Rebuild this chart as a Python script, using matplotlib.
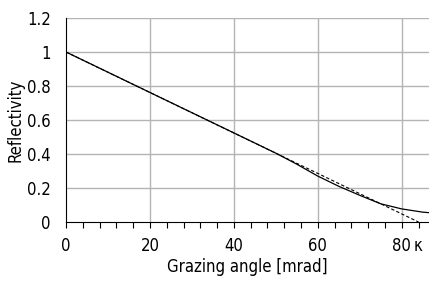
import matplotlib

matplotlib.use("Agg")
import matplotlib.pyplot as plt
import numpy as np

# donnees
kappa = 84.0
angle = [0, 10, 20, 30, 40, 50, 55, 60, 65, 70, 75, 80, 85, 86.5]
refl = [1.0, 0.881, 0.762, 0.643, 0.524, 0.405, 0.34, 0.27, 0.21, 0.157, 0.107, 0.077, 0.058, 0.055]
lin_angle = [0, kappa]
lin_refl = [1.0, 0.0]

xticks = [0, 20, 40, 60, 80, kappa]
xticklabels = ["0", "20", "40", "60", "80", "κ"]
yticks = [0, 0.2, 0.4, 0.6, 0.8, 1.0, 1.2]
yticklabels = ["0", "0.2", "0.4", "0.6", "0.8", "1", "1.2"]

plt.rcParams["font.family"] = ["DejaVu Sans"]
plt.rcParams["font.stretch"] = "condensed"

fig = plt.figure(figsize=(4.29, 2.81), dpi=100)
ax = fig.add_axes([66 / 429, 1 - 222 / 281, 1 - 66 / 429, 204 / 281])

ax.plot(angle, refl, color="black", linewidth=0.9)
ax.plot(lin_angle, lin_refl, color="black", linewidth=0.8, linestyle=(0, (3, 2)))

ax.set_xlim(0, 86.5)
ax.set_ylim(0, 1.2)
ax.set_xticks(xticks, xticklabels)
ax.set_xticks(np.arange(4, 86, 4), minor=True)
ax.set_yticks(yticks, yticklabels)

for v in [20, 40, 60, 80]:
    ax.axvline(v, color="#b4b4b4", linewidth=1.0, zorder=0)
for v in yticks[1:]:
    ax.axhline(v, color="#b4b4b4", linewidth=1.0, zorder=0)

for s in ["top", "right"]:
    ax.spines[s].set_visible(False)
ax.tick_params(axis="x", which="both", direction="out", length=4, width=0.8, labelsize=12, pad=7)
ax.tick_params(axis="y", length=0, labelsize=12, pad=11)

ax.set_xlabel("Grazing angle [mrad]", fontsize=12, labelpad=2)
ax.set_ylabel("Reflectivity", fontsize=12, labelpad=2)

fig.savefig("out.png", dpi=100, facecolor="white")
